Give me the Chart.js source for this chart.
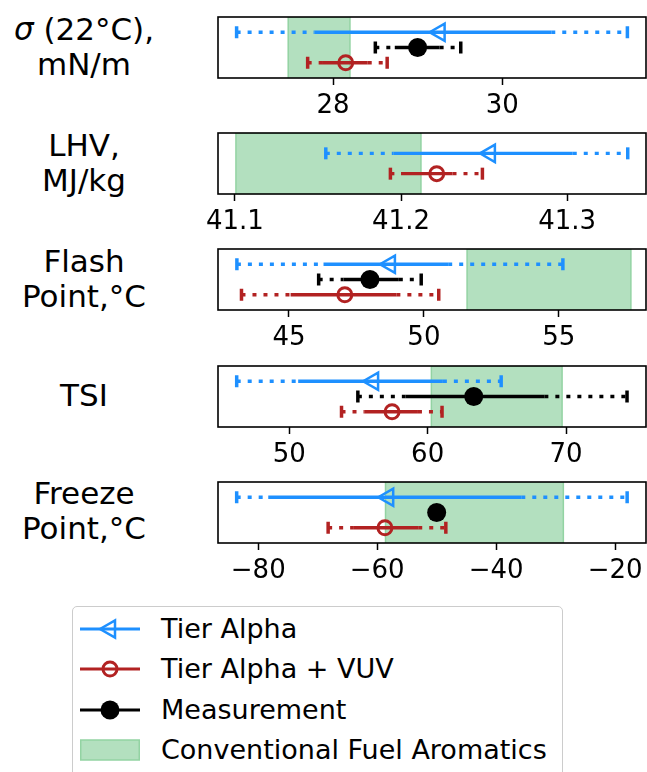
<!DOCTYPE html>
<html>
<head>
<meta charset="utf-8">
<script src="https://cdn.jsdelivr.net/npm/chart.js@4.4.0/dist/chart.umd.min.js"></script>
<style>
  body { margin:0; background:#fff; width:647px; height:772px; overflow:hidden; position:relative; font-family:'DejaVu Sans', sans-serif; }
  .lbl { position:absolute; left:0; width:168px; text-align:center; font-size:31px; line-height:35px; color:#000; white-space:pre; }
  .cv { position:absolute; left:0; }
  #legend { position:absolute; left:72px; top:606px; width:489px; height:200px; border:1.3px solid #ccc; border-radius:5px; background:#fff; }
  .row { position:absolute; left:0; width:100%; height:40px; }
  .row svg { position:absolute; left:7px; top:5px; }
  .row span { position:absolute; left:88px; top:0; line-height:40px; font-size:27px; color:#000; white-space:nowrap; }
</style>
</head>
<body>
<div id="legend"></div>
<script>
// ***** data ***** //
const rowLabels = ['σ (22°C),\nmN/m', 'LHV,\nMJ/kg', 'Flash\nPoint,°C', 'TSI', 'Freeze\nPoint,°C'];
const xRanges = [[26.64, 31.70], [41.0898, 41.3475], [42.37, 58.23], [44.86, 75.77], [-86.77, -14.8]];
const xTicks = [[28, 30], [41.1, 41.2, 41.3], [45, 50, 55], [50, 60, 70], [-80, -60, -40, -20]];

// Tier Alpha
const alphaVal = [29.26, 41.2535, 48.74, 56.06, -58.15];
const alphaInner = [[27.78, 30.58], [41.1954, 41.3034], [46.28, 50.90], [50.65, 61.1], [-78.32, -35.77]];
const alphaOuter = [[26.86, 31.48], [41.1547, 41.3365], [43.07, 55.15], [46.21, 65.31], [-83.63, -17.97]];

// Tier Alpha + VUV
const vuvVal = [28.15, 41.2215, 47.07, 57.43, -58.7];
const vuvInner = [[27.87, 28.41], [41.2, 41.231], [45.06, 48.98], [55.46, 59.3], [-64.05, -53.1]];
const vuvOuter = [[27.70, 28.64], [41.1936, 41.249], [43.24, 50.55], [53.78, 61.04], [-68.25, -48.46]];

// Measurement
const measVal = [29.0, null, 48.0, 63.33, -50.0];
const measInner = [[28.73, 29.26], null, [47.02, 49.07], [58.41, 68.43], null];
const measOuter = [[28.50, 29.51], null, [46.10, 49.90], [54.96, 74.4], null];

// Conventional Fuel Aromatics
const convRange = [[27.47, 28.20], [41.1006, 41.212], [51.60, 57.67], [60.27, 69.71], [-58.6, -28.7]];

const BLUE = '#1e90ff', RED = '#b22222', BLACK = '#000000';
const GREEN_FILL = '#b3e0bf', GREEN_EDGE = '#93d3a3';

const frame = {
  id: 'frame',
  afterDatasetsDraw(c) {
    const a = c.chartArea, g = c.ctx;
    g.save();
    g.strokeStyle = '#000';
    g.lineWidth = 1.6;
    g.strokeRect(a.left, a.top, a.right - a.left, a.bottom - a.top);
    g.restore();
  }
};

function fmt(v) {
  return String(Math.round(v * 1000) / 1000).replace('-', '\u2212');
}

function seriesSets(val, inner, outer, y, color, kind) {
  const sets = [];
  const line = (a, b, dash) => ({
    data: [{x: a, y: y}, {x: b, y: y}],
    borderColor: color, borderWidth: 3.3, borderDash: dash, borderCapStyle: 'butt',
    pointRadius: 0, showLine: true, order: 2
  });
  if (outer) {
    sets.push(line(outer[0], inner[0], [4, 7]));
    sets.push(line(inner[1], outer[1], [4, 7]));
    sets.push(line(inner[0], inner[1], []));
    sets.push({
      data: [{x: outer[0], y: y}, {x: outer[1], y: y}],
      showLine: false, pointStyle: 'line', rotation: 90, pointRadius: 6,
      pointBorderWidth: 3.5, pointBorderColor: color, order: 1
    });
  }
  let pt;
  if (kind === 'alpha') {
    pt = {pointStyle: 'triangle', rotation: 270, pointRadius: 10, pointBorderWidth: 2.5,
          pointBackgroundColor: 'rgba(0,0,0,0)', pointBorderColor: color};
  } else if (kind === 'vuv') {
    pt = {pointStyle: 'circle', pointRadius: 7, pointBorderWidth: 3,
          pointBackgroundColor: 'rgba(0,0,0,0)', pointBorderColor: color};
  } else {
    pt = {pointStyle: 'circle', pointRadius: 9.5, pointBorderWidth: 0,
          pointBackgroundColor: color, pointBorderColor: color};
  }
  sets.push(Object.assign({data: [{x: val, y: y}], showLine: false, order: 0}, pt));
  return sets;
}

const top0 = 17, step = 116.2, areaH = 61, padTop = 4, axisH = 40;

rowLabels.forEach((label, i) => {
  const chartTop = top0 + i * step;

  // row label
  const lines = label.split('\n').length;
  const div = document.createElement('div');
  div.className = 'lbl';
  div.innerHTML = label.replace('σ', '<i>σ</i>');
  div.style.top = (chartTop + areaH / 2 - lines * 35 / 2 - 1) + 'px';
  document.body.appendChild(div);

  // canvas
  const cv = document.createElement('canvas');
  cv.className = 'cv';
  cv.width = 647;
  cv.height = padTop + areaH + axisH;
  cv.style.top = (chartTop - padTop) + 'px';
  document.body.appendChild(cv);

  const rows = [];
  rows.push(['alpha', alphaVal[i], alphaInner[i], alphaOuter[i], BLUE]);
  if (measVal[i] !== null) rows.push(['meas', measVal[i], measInner[i], measOuter[i], BLACK]);
  rows.push(['vuv', vuvVal[i], vuvInner[i], vuvOuter[i], RED]);
  const n = rows.length;

  let datasets = [];
  rows.forEach((r, k) => {
    datasets = datasets.concat(seriesSets(r[1], r[2], r[3], n - 1 - k, r[4], r[0]));
  });
  datasets.push({
    data: [{x: convRange[i][0], y: -1}, {x: convRange[i][0], y: n}, {x: convRange[i][1], y: n}, {x: convRange[i][1], y: -1}],
    fill: 'start', backgroundColor: GREEN_FILL, borderColor: GREEN_EDGE, borderWidth: 1.5,
    pointRadius: 0, showLine: true, order: 10
  });

  new Chart(cv, {
    type: 'line',
    data: {datasets: datasets},
    options: {
      responsive: false,
      animation: false,
      layout: {autoPadding: false, padding: {left: 218, right: 1, top: padTop, bottom: 0}},
      plugins: {legend: {display: false}, tooltip: {enabled: false}},
      scales: {
        x: {
          type: 'linear', min: xRanges[i][0], max: xRanges[i][1],
          afterBuildTicks: s => { s.ticks = xTicks[i].map(v => ({value: v})); },
          afterFit: s => { s.height = axisH; s.paddingLeft = 0; s.paddingRight = 0; },
          grid: {drawOnChartArea: false, drawTicks: true, tickLength: 7, tickWidth: 1.5, tickColor: '#000'},
          border: {display: false},
          ticks: {color: '#000', font: {family: 'DejaVu Sans', size: 26}, padding: 6,
                  maxRotation: 0, autoSkip: false, callback: v => fmt(v)}
        },
        y: {type: 'linear', display: false, min: -1, max: n}
      }
    },
    plugins: [frame]
  });
});

// ***** legend ***** //
const legendItems = [
  ['Tier Alpha', '<line x1="0" y1="15" x2="60" y2="15" stroke="' + BLUE + '" stroke-width="3"/><polygon points="20,15 35,6.3 35,23.7" fill="none" stroke="' + BLUE + '" stroke-width="2.5"/>'],
  ['Tier Alpha + VUV', '<line x1="0" y1="15" x2="60" y2="15" stroke="' + RED + '" stroke-width="3"/><circle cx="30" cy="15" r="7" fill="none" stroke="' + RED + '" stroke-width="3"/>'],
  ['Measurement', '<line x1="0" y1="15" x2="60" y2="15" stroke="#000" stroke-width="3"/><circle cx="30" cy="15" r="9.5" fill="#000"/>'],
  ['Conventional Fuel Aromatics', '<rect x="0.75" y="5" width="58.5" height="20" fill="' + GREEN_FILL + '" stroke="' + GREEN_EDGE + '" stroke-width="1.5"/>']
];
const legend = document.getElementById('legend');
legendItems.forEach((it, k) => {
  const row = document.createElement('div');
  row.className = 'row';
  row.style.top = (2 + k * 40.3) + 'px';
  row.innerHTML = '<svg width="60" height="30">' + it[1] + '</svg><span>' + it[0] + '</span>';
  legend.appendChild(row);
});
</script>
</body>
</html>
